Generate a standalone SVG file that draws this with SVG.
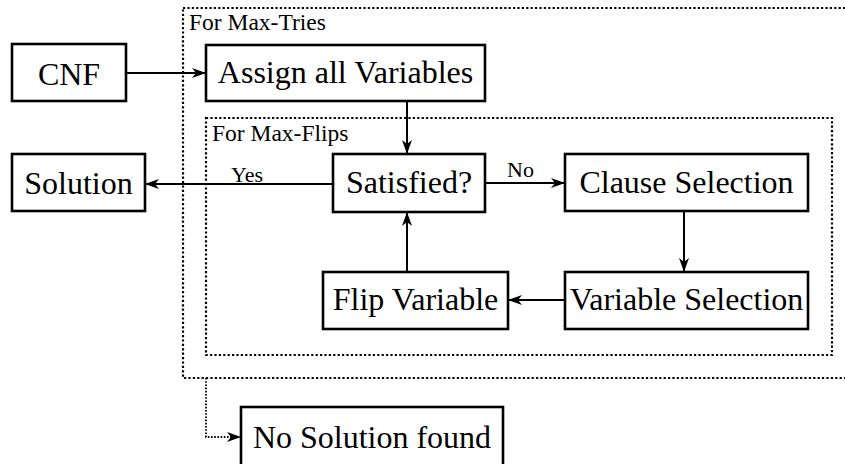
<svg xmlns="http://www.w3.org/2000/svg" width="845" height="464" viewBox="0 0 845 464">
  <style>
    .box { fill: #fff; stroke: #000; stroke-width: 2.6; }
    .lbl { font-family: 'Liberation Serif', 'DejaVu Serif', serif; font-size: 32px; fill: #000; text-anchor: middle; }
    .small { font-family: 'Liberation Serif', 'DejaVu Serif', serif; font-size: 22px; fill: #000; }
    .frame { font-family: 'Liberation Serif', 'DejaVu Serif', serif; font-size: 23.5px; fill: #000; }
    .loop { fill: none; stroke: #000; stroke-width: 2.2; stroke-dasharray: 2.2 2.2; }
    .edge { fill: none; stroke: #000; stroke-width: 2; }
    .dotted { fill: none; stroke: #000; stroke-width: 1.8; stroke-dasharray: 1.6 1.6; }
  </style>
  <defs>
    <marker id="arrow" markerUnits="userSpaceOnUse" markerWidth="16" markerHeight="12" refX="14" refY="5" orient="auto">
      <path d="M0,0 L14,5 L0,10 L4,5 Z" fill="#000"/>
    </marker>
  </defs>

  <!-- loop frames -->
  <g id="max-tries">
    <rect class="loop" x="183" y="8" width="690" height="370"/>
    <text class="frame" x="189" y="30">For Max-Tries</text>
  </g>
  <g id="max-flips">
    <rect class="loop" x="206" y="118" width="626" height="237"/>
    <text class="frame" x="212" y="141">For Max-Flips</text>
  </g>

  <!-- connectors -->
  <g id="connectors">
    <line class="edge" x1="126" y1="73" x2="206" y2="73" marker-end="url(#arrow)"/>
    <line class="edge" x1="407" y1="101" x2="407" y2="154" marker-end="url(#arrow)"/>
    <line class="edge" x1="333" y1="184" x2="145" y2="184" marker-end="url(#arrow)"/>
    <text class="small" x="231" y="182">Yes</text>
    <line class="edge" x1="485" y1="183" x2="565" y2="183" marker-end="url(#arrow)"/>
    <text class="small" x="507" y="177">No</text>
    <line class="edge" x1="684" y1="211" x2="684" y2="272" marker-end="url(#arrow)"/>
    <line class="edge" x1="565" y1="300" x2="508" y2="300" marker-end="url(#arrow)"/>
    <line class="edge" x1="407" y1="272" x2="407" y2="212" marker-end="url(#arrow)"/>
    <path class="dotted" d="M206,378 V437 H241" marker-end="url(#arrow)"/>
  </g>

  <!-- nodes -->
  <g id="cnf">
    <rect class="box" x="12" y="44" width="114" height="57"/>
    <text class="lbl" x="69" y="85">CNF</text>
  </g>
  <g id="assign">
    <rect class="box" x="206" y="45" width="279" height="56"/>
    <text class="lbl" x="345.5" y="83">Assign all Variables</text>
  </g>
  <g id="solution">
    <rect class="box" x="12" y="154" width="133" height="57"/>
    <text class="lbl" x="78.5" y="194">Solution</text>
  </g>
  <g id="satisfied">
    <rect class="box" x="333" y="154" width="152" height="58"/>
    <text class="lbl" x="409" y="193">Satisfied?</text>
  </g>
  <g id="clause-selection">
    <rect class="box" x="565" y="154" width="243" height="57"/>
    <text class="lbl" x="686.5" y="193">Clause Selection</text>
  </g>
  <g id="variable-selection">
    <rect class="box" x="565" y="272" width="243" height="57"/>
    <text class="lbl" x="686.5" y="310">Variable Selection</text>
  </g>
  <g id="flip-variable">
    <rect class="box" x="323" y="272" width="185" height="57"/>
    <text class="lbl" x="415.5" y="310">Flip Variable</text>
  </g>
  <g id="no-solution">
    <rect class="box" x="241" y="407" width="262" height="70"/>
    <text class="lbl" x="372" y="448">No Solution found</text>
  </g>
</svg>
